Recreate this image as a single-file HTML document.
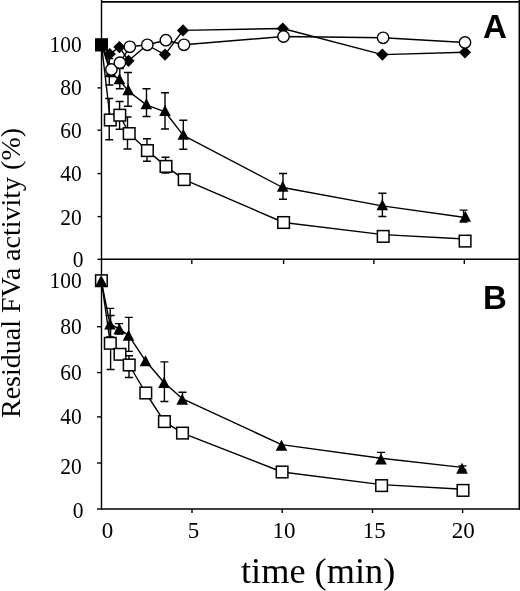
<!DOCTYPE html>
<html><head><meta charset="utf-8"><style>
html,body{margin:0;padding:0;background:#fff;width:520px;height:591px;overflow:hidden}
svg{display:block;will-change:transform}
text{font-family:"Liberation Serif",serif}
text.lab{font-family:"Liberation Sans",sans-serif;font-weight:bold}
</style></head><body>
<svg width="520" height="591" viewBox="0 0 520 591">
<rect width="520" height="591" fill="#fff"/>
<path d="M101.5 0V509.5" stroke="#000" stroke-width="1.4"/>
<path d="M101 1.8H520" stroke="#000" stroke-width="1.8"/>
<path d="M519.3 0V510" stroke="#000" stroke-width="1.5"/>
<path d="M101 259.3H520" stroke="#000" stroke-width="1.4"/>
<path d="M101 509H520" stroke="#000" stroke-width="1.6"/>
<path d="M97.5 44.6H101.5" stroke="#000" stroke-width="1.4"/>
<path d="M97.5 87.9H101.5" stroke="#000" stroke-width="1.4"/>
<path d="M97.5 130.2H101.5" stroke="#000" stroke-width="1.4"/>
<path d="M97.5 173.6H101.5" stroke="#000" stroke-width="1.4"/>
<path d="M97.5 216.6H101.5" stroke="#000" stroke-width="1.4"/>
<path d="M97.5 259.3H101.5" stroke="#000" stroke-width="1.4"/>
<path d="M97 280.6H101.5" stroke="#000" stroke-width="1.4"/>
<path d="M97 326.7H101.5" stroke="#000" stroke-width="1.4"/>
<path d="M97 372.6H101.5" stroke="#000" stroke-width="1.4"/>
<path d="M97 416.9H101.5" stroke="#000" stroke-width="1.4"/>
<path d="M97 463.0H101.5" stroke="#000" stroke-width="1.4"/>
<path d="M97 509.0H101.5" stroke="#000" stroke-width="1.4"/>
<path d="M191.8 259.3V264" stroke="#000" stroke-width="1.4"/>
<path d="M283.6 259.3V264" stroke="#000" stroke-width="1.4"/>
<path d="M373.9 259.3V264" stroke="#000" stroke-width="1.4"/>
<path d="M464.3 259.3V264" stroke="#000" stroke-width="1.4"/>
<path d="M192.0 509V513" stroke="#000" stroke-width="1.4"/>
<path d="M282.2 509V513" stroke="#000" stroke-width="1.4"/>
<path d="M372.5 509V513" stroke="#000" stroke-width="1.4"/>
<path d="M462.6 509V513" stroke="#000" stroke-width="1.4"/>
<polyline points="101.5,44.6 110.3,120.0 119.8,115.2 129.2,133.6 147.4,150.6 166.0,166.4 184.2,179.6 283.6,222.5 383.2,234.6 465.1,239.0" fill="none" stroke="#000" stroke-width="1.4" stroke-linejoin="round"/>
<polyline points="101.5,44.6 110.6,72.8 119.4,79.9 128.2,91.0 146.4,104.9 165.0,111.8 183.3,135.4 282.7,187.5 382.3,205.9 465.3,217.5" fill="none" stroke="#000" stroke-width="1.4" stroke-linejoin="round"/>
<polyline points="101.5,44.6 109.8,54.0 119.4,47.1 128.5,60.8 147.0,45.0 165.0,54.6 183.0,30.4 282.7,28.5 382.4,54.6 465.0,52.3" fill="none" stroke="#000" stroke-width="1.4" stroke-linejoin="round"/>
<polyline points="101.5,44.6 111.4,69.5 119.9,62.7 129.8,46.8 147.3,44.8 165.9,40.2 184.0,44.8 283.5,36.5 383.1,37.8 465.0,42.5" fill="none" stroke="#000" stroke-width="1.4" stroke-linejoin="round"/>
<polyline points="101.4,280.7 110.3,343.3 120.0,354.3 129.2,365.0 145.8,393.0 164.4,421.6 182.5,433.1 282.1,472.0 381.6,484.6 463.0,489.2" fill="none" stroke="#000" stroke-width="1.4" stroke-linejoin="round"/>
<polyline points="101.2,280.6 110.0,324.1 119.3,328.8 128.5,335.2 145.5,360.8 164.0,382.5 182.2,398.6 281.5,444.6 381.0,458.3 462.0,467.4" fill="none" stroke="#000" stroke-width="1.4" stroke-linejoin="round"/>
<path d="M109.3 58.6V85.0M105.3 58.6H113.3M105.3 85.0H113.3" stroke="#000" stroke-width="1.4" fill="none"/>
<path d="M119.8 68.6V88.8M115.8 68.6H123.8M115.8 88.8H123.8" stroke="#000" stroke-width="1.4" fill="none"/>
<path d="M128.0 72.5V106.2M124.0 72.5H132.0M124.0 106.2H132.0" stroke="#000" stroke-width="1.4" fill="none"/>
<path d="M146.5 88.8V116.5M142.5 88.8H150.5M142.5 116.5H150.5" stroke="#000" stroke-width="1.4" fill="none"/>
<path d="M165.0 92.7V129.0M161.0 92.7H169.0M161.0 129.0H169.0" stroke="#000" stroke-width="1.4" fill="none"/>
<path d="M183.3 120.2V149.3M179.3 120.2H187.3M179.3 149.3H187.3" stroke="#000" stroke-width="1.4" fill="none"/>
<path d="M283.0 173.5V199.2M279.0 173.5H287.0M279.0 199.2H287.0" stroke="#000" stroke-width="1.4" fill="none"/>
<path d="M382.4 193.3V216.5M378.4 193.3H386.4M378.4 216.5H386.4" stroke="#000" stroke-width="1.4" fill="none"/>
<path d="M463.6 210.1V222.0M459.6 210.1H467.6M459.6 222.0H467.6" stroke="#000" stroke-width="1.4" fill="none"/>
<path d="M109.2 98.5V139.8M105.2 98.5H113.2M105.2 139.8H113.2" stroke="#000" stroke-width="1.4" fill="none"/>
<path d="M119.6 101.5V129.2M115.6 101.5H123.6M115.6 129.2H123.6" stroke="#000" stroke-width="1.4" fill="none"/>
<path d="M127.5 117.0V149.0M123.5 117.0H131.5M123.5 149.0H131.5" stroke="#000" stroke-width="1.4" fill="none"/>
<path d="M147.0 138.7V161.2M143.0 138.7H151.0M143.0 161.2H151.0" stroke="#000" stroke-width="1.4" fill="none"/>
<path d="M165.5 157.2V173.0M161.5 157.2H169.5M161.5 173.0H169.5" stroke="#000" stroke-width="1.4" fill="none"/>
<path d="M110.2 308.4V337.0M106.2 308.4H114.2M106.2 337.0H114.2" stroke="#000" stroke-width="1.4" fill="none"/>
<path d="M119.0 323.6V334.0M115.0 323.6H123.0M115.0 334.0H123.0" stroke="#000" stroke-width="1.4" fill="none"/>
<path d="M128.8 317.4V351.4M124.8 317.4H132.8M124.8 351.4H132.8" stroke="#000" stroke-width="1.4" fill="none"/>
<path d="M164.4 361.9V401.5M160.4 361.9H168.4M160.4 401.5H168.4" stroke="#000" stroke-width="1.4" fill="none"/>
<path d="M182.5 392.3V402.0M178.5 392.3H186.5M178.5 402.0H186.5" stroke="#000" stroke-width="1.4" fill="none"/>
<path d="M381.0 452.4V462.0M377.0 452.4H385.0M377.0 462.0H385.0" stroke="#000" stroke-width="1.4" fill="none"/>
<path d="M462.5 465.9V470.0M458.5 465.9H466.5M458.5 470.0H466.5" stroke="#000" stroke-width="1.4" fill="none"/>
<path d="M110.6 315.5V369.5M106.6 315.5H114.6M106.6 369.5H114.6" stroke="#000" stroke-width="1.4" fill="none"/>
<path d="M129.0 355.8V377.5M125.0 355.8H133.0M125.0 377.5H133.0" stroke="#000" stroke-width="1.4" fill="none"/>
<rect x="104.5" y="114.2" width="11.6" height="11.6" fill="#fff" stroke="#000" stroke-width="1.5"/>
<rect x="114.0" y="109.4" width="11.6" height="11.6" fill="#fff" stroke="#000" stroke-width="1.5"/>
<rect x="123.4" y="127.8" width="11.6" height="11.6" fill="#fff" stroke="#000" stroke-width="1.5"/>
<rect x="141.6" y="144.8" width="11.6" height="11.6" fill="#fff" stroke="#000" stroke-width="1.5"/>
<rect x="160.2" y="160.6" width="11.6" height="11.6" fill="#fff" stroke="#000" stroke-width="1.5"/>
<rect x="178.4" y="173.8" width="11.6" height="11.6" fill="#fff" stroke="#000" stroke-width="1.5"/>
<rect x="277.8" y="216.7" width="11.6" height="11.6" fill="#fff" stroke="#000" stroke-width="1.5"/>
<rect x="377.4" y="230.6" width="11.6" height="11.6" fill="#fff" stroke="#000" stroke-width="1.5"/>
<rect x="459.3" y="235.3" width="11.6" height="11.6" fill="#fff" stroke="#000" stroke-width="1.5"/>
<path d="M110.6 66.3L116.4 77.3L104.8 77.3Z" fill="#000"/>
<path d="M119.4 73.2L125.2 84.2L113.6 84.2Z" fill="#000"/>
<path d="M128.2 84.3L134.0 95.3L122.4 95.3Z" fill="#000"/>
<path d="M146.4 98.2L152.2 109.2L140.6 109.2Z" fill="#000"/>
<path d="M165.0 105.1L170.8 116.1L159.2 116.1Z" fill="#000"/>
<path d="M183.3 128.7L189.1 139.7L177.5 139.7Z" fill="#000"/>
<path d="M282.7 180.8L288.5 191.8L276.9 191.8Z" fill="#000"/>
<path d="M382.3 199.2L388.1 210.2L376.5 210.2Z" fill="#000"/>
<path d="M465.3 210.8L471.1 221.8L459.5 221.8Z" fill="#000"/>
<path d="M109.8 47.9L115.9 54.0L109.8 60.1L103.7 54.0Z" fill="#000"/>
<path d="M119.4 41.0L125.5 47.1L119.4 53.2L113.3 47.1Z" fill="#000"/>
<path d="M128.5 54.7L134.6 60.8L128.5 66.9L122.4 60.8Z" fill="#000"/>
<path d="M147.0 38.9L153.1 45.0L147.0 51.1L140.9 45.0Z" fill="#000"/>
<path d="M165.0 48.5L171.1 54.6L165.0 60.7L158.9 54.6Z" fill="#000"/>
<path d="M183.0 24.3L189.1 30.4L183.0 36.5L176.9 30.4Z" fill="#000"/>
<path d="M282.7 22.4L288.8 28.5L282.7 34.6L276.6 28.5Z" fill="#000"/>
<path d="M382.4 48.5L388.5 54.6L382.4 60.7L376.3 54.6Z" fill="#000"/>
<path d="M465.0 46.2L471.1 52.3L465.0 58.4L458.9 52.3Z" fill="#000"/>
<circle cx="111.4" cy="69.5" r="5.7" fill="#fff" stroke="#000" stroke-width="1.4"/>
<circle cx="119.9" cy="62.7" r="5.7" fill="#fff" stroke="#000" stroke-width="1.4"/>
<circle cx="129.8" cy="46.8" r="5.7" fill="#fff" stroke="#000" stroke-width="1.4"/>
<circle cx="147.3" cy="44.8" r="5.7" fill="#fff" stroke="#000" stroke-width="1.4"/>
<circle cx="165.9" cy="40.2" r="5.7" fill="#fff" stroke="#000" stroke-width="1.4"/>
<circle cx="184.0" cy="44.8" r="5.7" fill="#fff" stroke="#000" stroke-width="1.4"/>
<circle cx="283.5" cy="36.5" r="5.7" fill="#fff" stroke="#000" stroke-width="1.4"/>
<circle cx="383.1" cy="37.8" r="5.7" fill="#fff" stroke="#000" stroke-width="1.4"/>
<circle cx="465.0" cy="42.5" r="5.7" fill="#fff" stroke="#000" stroke-width="1.4"/>
<rect x="95" y="38.2" width="13" height="13.3" fill="#000"/>
<rect x="95.6" y="274.9" width="11.6" height="11.6" fill="#fff" stroke="#000" stroke-width="1.5"/>
<rect x="104.5" y="337.5" width="11.6" height="11.6" fill="#fff" stroke="#000" stroke-width="1.5"/>
<rect x="114.2" y="348.5" width="11.6" height="11.6" fill="#fff" stroke="#000" stroke-width="1.5"/>
<rect x="123.4" y="359.2" width="11.6" height="11.6" fill="#fff" stroke="#000" stroke-width="1.5"/>
<rect x="140.0" y="387.2" width="11.6" height="11.6" fill="#fff" stroke="#000" stroke-width="1.5"/>
<rect x="158.6" y="415.8" width="11.6" height="11.6" fill="#fff" stroke="#000" stroke-width="1.5"/>
<rect x="176.7" y="427.3" width="11.6" height="11.6" fill="#fff" stroke="#000" stroke-width="1.5"/>
<rect x="276.3" y="466.2" width="11.6" height="11.6" fill="#fff" stroke="#000" stroke-width="1.5"/>
<rect x="375.8" y="479.8" width="11.6" height="11.6" fill="#fff" stroke="#000" stroke-width="1.5"/>
<rect x="457.2" y="484.6" width="11.6" height="11.6" fill="#fff" stroke="#000" stroke-width="1.5"/>
<path d="M101.2 275.1L107.0 286.1L95.4 286.1Z" fill="#000"/>
<path d="M110.0 318.6L115.8 329.6L104.2 329.6Z" fill="#000"/>
<path d="M119.3 323.3L125.1 334.3L113.5 334.3Z" fill="#000"/>
<path d="M128.5 329.7L134.3 340.7L122.7 340.7Z" fill="#000"/>
<path d="M145.5 355.3L151.3 366.3L139.7 366.3Z" fill="#000"/>
<path d="M164.0 377.0L169.8 388.0L158.2 388.0Z" fill="#000"/>
<path d="M182.2 393.7L188.0 404.7L176.4 404.7Z" fill="#000"/>
<path d="M281.5 439.7L287.3 450.7L275.7 450.7Z" fill="#000"/>
<path d="M381.0 453.6L386.8 464.6L375.2 464.6Z" fill="#000"/>
<path d="M462.0 462.7L467.8 473.7L456.2 473.7Z" fill="#000"/>
<g font-family="Liberation Serif" fill="#000"><text transform="translate(81.8 52.0) scale(1 1.06)" text-anchor="end" font-size="21.5">100</text><text transform="translate(81.8 95.1) scale(1 1.06)" text-anchor="end" font-size="21.5">80</text><text transform="translate(81.8 138.2) scale(1 1.06)" text-anchor="end" font-size="21.5">60</text><text transform="translate(81.8 181.3) scale(1 1.06)" text-anchor="end" font-size="21.5">40</text><text transform="translate(81.8 224.5) scale(1 1.06)" text-anchor="end" font-size="21.5">20</text><text transform="translate(83.6 266.9) scale(1 1.06)" text-anchor="end" font-size="21.5">0</text><text transform="translate(81.8 288.1) scale(1 1.06)" text-anchor="end" font-size="21.5">100</text><text transform="translate(81.8 334.3) scale(1 1.06)" text-anchor="end" font-size="21.5">80</text><text transform="translate(81.8 380.0) scale(1 1.06)" text-anchor="end" font-size="21.5">60</text><text transform="translate(81.8 424.3) scale(1 1.06)" text-anchor="end" font-size="21.5">40</text><text transform="translate(81.8 473.9) scale(1 1.06)" text-anchor="end" font-size="21.5">20</text><text transform="translate(83.6 517.8) scale(1 1.06)" text-anchor="end" font-size="21.5">0</text><text transform="translate(107.4 537.8) scale(1 1.04)" text-anchor="middle" font-size="23">0</text><text transform="translate(193.5 537.8) scale(1 1.04)" text-anchor="middle" font-size="23">5</text><text transform="translate(284.0 537.8) scale(1 1.04)" text-anchor="middle" font-size="23">10</text><text transform="translate(374.3 537.8) scale(1 1.04)" text-anchor="middle" font-size="23">15</text><text transform="translate(463.3 537.8) scale(1 1.04)" text-anchor="middle" font-size="23">20</text><text x="241" y="583.4" font-size="36.3">time (min)</text><text transform="translate(20.3 418) rotate(-90)" x="0" y="0" font-size="28">Residual FVa activity (%)</text><text x="483" y="37.9" class="lab" font-size="33">A</text><text x="483" y="308.9" class="lab" font-size="33">B</text></g>
</svg>
</body></html>
